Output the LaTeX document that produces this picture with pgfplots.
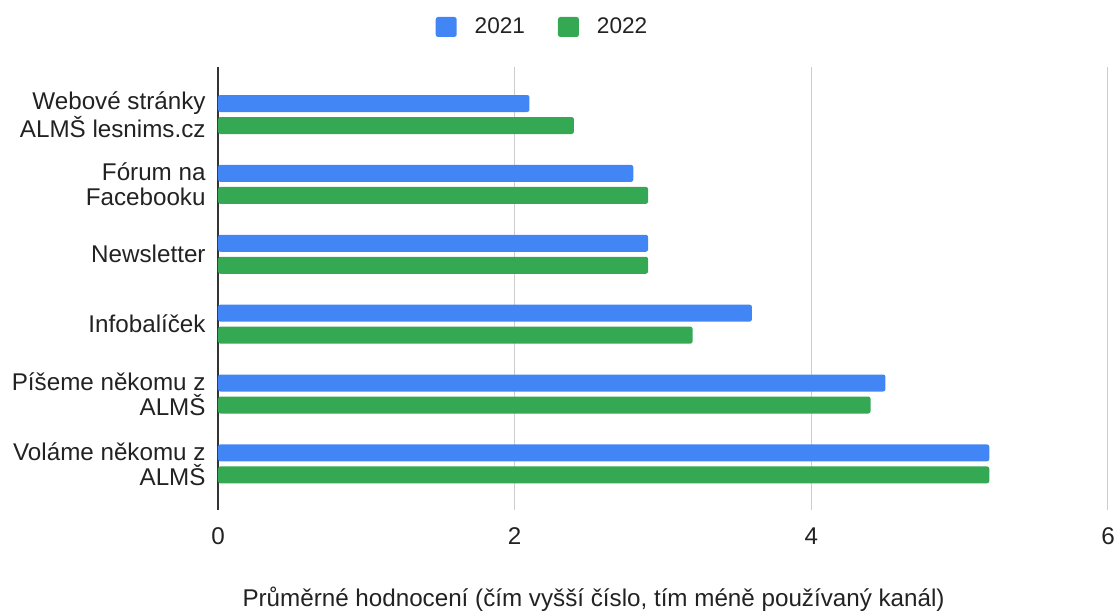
\documentclass[border=0pt]{standalone}
\usepackage{fontspec}
\setmainfont{Liberation Sans}
\usepackage{pgfplots}
\pgfplotsset{compat=1.18}
\definecolor{gblue}{HTML}{4285F4}
\definecolor{ggreen}{HTML}{34A853}
\definecolor{gridc}{HTML}{CCCCCC}
\definecolor{txt}{HTML}{222222}
\definecolor{basec}{HTML}{333333}
\begin{document}
\begin{tikzpicture}[font=\fontsize{12.1}{12.6}\selectfont]
\begin{axis}[
  at={(0,0)}, anchor=south west,
  scale only axis, width=445pt, height=221.5pt,
  xbar, bar width=8.5pt,
  xmin=0, xmax=6, ymin=-0.68, ymax=5.66, y dir=reverse,
  xtick={0,2,4,6}, ytick={0,1,2,3,4,5},
  yticklabels={{Webové stránky\\ALMŠ lesnims.cz},{Fórum na\\Facebooku},{Newsletter},{Infobalíček},{Píšeme někomu z\\ALMŠ},{Voláme někomu z\\ALMŠ}},
  yticklabel style={align=right, text=txt, anchor=east, xshift=-2.7pt},
  xticklabel style={text=txt, anchor=center, yshift=-13pt},
  /pgf/number format/assume math mode=true,
  major tick length=0pt,
  axis line style={draw=none},
  xmajorgrids, grid style={gridc, line width=0.5pt},
  extra x ticks={0}, extra x tick labels={},
  extra x tick style={grid style={basec, line width=0.7pt}},
  xlabel={Průměrné hodnocení (čím vyšší číslo, tím méně používaný kanál)},
  xlabel style={at={(axis description cs:0.422,0)}, anchor=center, yshift=-44.5pt, text=txt},
  legend style={at={(axis description cs:0.3657,1.0903)}, anchor=center, draw=none, fill=none,
    legend columns=2, text=txt, font=\fontsize{11.3}{12.6}\selectfont,
    /tikz/every odd column/.append style={column sep=7pt},
    /tikz/every even column/.append style={column sep=14.5pt}},
  legend image code/.code={\fill[#1] (0pt,-5pt) rectangle (10.5pt,5pt);},
]
\addplot[fill=gblue, draw=none, bar shift=5.5pt, rounded corners=1.2pt] coordinates {
 (2.1,0) (2.8,1) (2.9,2) (3.6,3) (4.5,4) (5.2,5)};
\addplot[fill=ggreen, draw=none, bar shift=-5.5pt, rounded corners=1.2pt] coordinates {
 (2.4,0) (2.9,1) (2.9,2) (3.2,3) (4.4,4) (5.2,5)};
\legend{2021,2022}
\end{axis}
\pgfresetboundingbox
\path[use as bounding box] (-109pt,-52pt) rectangle (448pt,255pt);
\end{tikzpicture}
\end{document}
